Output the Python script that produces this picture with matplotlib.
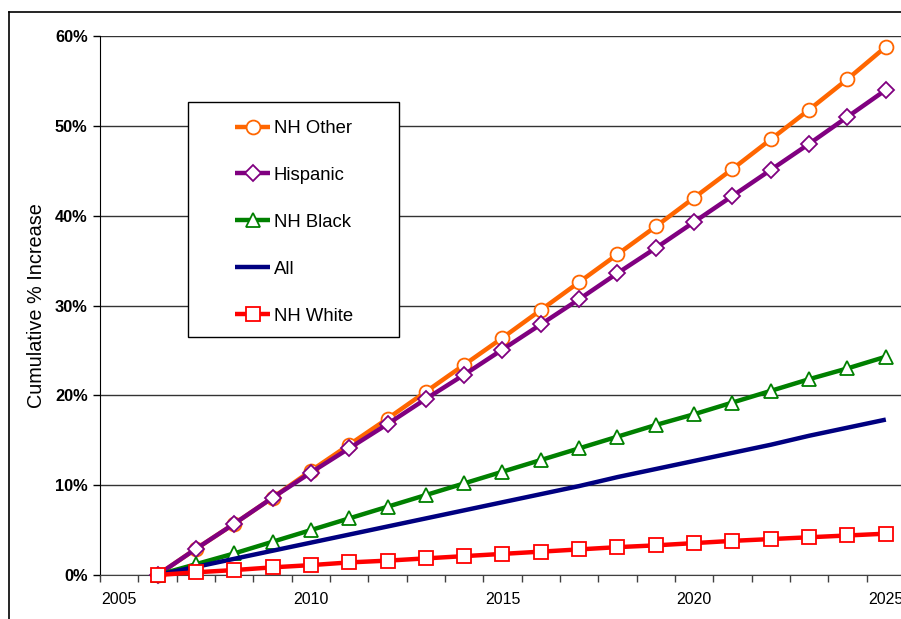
#!/usr/bin/env python3
import matplotlib
matplotlib.use("Agg")
import matplotlib.pyplot as plt
from matplotlib.lines import Line2D
from matplotlib.patches import Rectangle
from matplotlib.ticker import FixedLocator, FuncFormatter

# category axis: 2005..2025, data from 2006
years = list(range(2005, 2026))
data_years = list(range(2006, 2026))

nh_other = [0.0, 2.9, 5.7, 8.6, 11.6, 14.5, 17.4, 20.4, 23.4, 26.4, 29.5,
            32.6, 35.7, 38.8, 42.0, 45.2, 48.5, 51.8, 55.2, 58.8]
hispanic = [0.0, 2.9, 5.7, 8.6, 11.4, 14.1, 16.8, 19.6, 22.3, 25.1, 27.9,
            30.7, 33.6, 36.4, 39.3, 42.2, 45.1, 48.0, 51.0, 54.0]
nh_black = [0.0, 1.2, 2.4, 3.7, 5.0, 6.3, 7.6, 8.9, 10.2, 11.5, 12.8,
            14.1, 15.4, 16.7, 17.9, 19.2, 20.5, 21.8, 23.0, 24.3]
all_pop = [0.0, 0.9, 1.8, 2.7, 3.6, 4.5, 5.4, 6.3, 7.2, 8.1, 9.0,
           9.9, 10.9, 11.8, 12.7, 13.6, 14.5, 15.5, 16.4, 17.3]
nh_white = [0.0, 0.3, 0.55, 0.85, 1.1, 1.4, 1.6, 1.85, 2.1, 2.35, 2.6,
            2.85, 3.1, 3.3, 3.55, 3.8, 4.0, 4.2, 4.4, 4.6]

series = [
    ("NH Other", nh_other, "#FF6600", "o", 10),
    ("Hispanic", hispanic, "#800080", "D", 8),
    ("NH Black", nh_black, "#008000", "^", 10),
    ("All", all_pop, "#000080", None, 0),
    ("NH White", nh_white, "#FF0000", "s", 9.5),
]

plt.rcParams["font.family"] = ["Liberation Sans", "DejaVu Sans"]

W, H = 901, 619
fig = plt.figure(figsize=(W / 100, H / 100), dpi=100)
ax = fig.add_axes([100 / W, (H - 575) / H, 805 / W, 539 / H])


def px(x, y):
    # picture pixels (from top-left) -> axes fraction
    return (x - 100) / 805, 1 - (y - 36) / 539


xpos = [years.index(y) for y in data_years]
for name, vals, color, marker, ms in series:
    ax.plot(xpos, vals, color=color, lw=3.2, marker=marker, markersize=ms,
            markerfacecolor="white", markeredgecolor=color, markeredgewidth=1.3,
            label=name, solid_capstyle="butt", clip_on=False, zorder=3)

ax.set_xlim(-0.5, len(years) - 0.5)
ax.set_ylim(0, 60)

# category boundaries get the tick marks, labels sit at category centres
ax.xaxis.set_major_locator(FixedLocator([i - 0.5 for i in range(len(years) + 1)]))
ax.xaxis.set_major_formatter(FuncFormatter(lambda v, p: ""))
label_idx = [i for i, y in enumerate(years) if y % 5 == 0]
ax.xaxis.set_minor_locator(FixedLocator(label_idx))
ax.xaxis.set_minor_formatter(FuncFormatter(lambda v, p: str(years[int(round(v))])))
ax.tick_params(axis="x", which="major", direction="out", length=5, width=1, color="#404040")
ax.tick_params(axis="x", which="minor", length=0, pad=12, labelsize=11.5)

ax.set_yticks(range(0, 61, 10))
ax.yaxis.set_major_formatter(FuncFormatter(lambda v, p: f"{int(v)}%"))
ax.tick_params(axis="y", direction="out", length=5, width=1, pad=4, labelsize=11.8)
for lbl in ax.get_yticklabels():
    lbl.set_fontweight("bold")

ax.grid(axis="y", color="#333333", lw=1)
ax.set_axisbelow(True)
for side in ("top", "right"):
    ax.spines[side].set_visible(False)
ax.spines["left"].set_color("black")
ax.spines["bottom"].set_color("#404040")

ax.set_ylabel("Cumulative % Increase", fontsize=14.3, labelpad=6)

# legend box drawn by hand so its padding can match
x0, y0 = px(188, 337)
x1, y1 = px(399, 102)
ax.add_patch(Rectangle((x0, y0), x1 - x0, y1 - y0, transform=ax.transAxes,
                       facecolor="white", edgecolor="black", lw=1, zorder=4,
                       clip_on=False))
leg = ax.legend(loc="upper left", bbox_to_anchor=px(235, 120),
                fontsize=13.3, frameon=False,
                handlelength=1.9, handletextpad=0.2, labelspacing=1.62,
                borderpad=0, borderaxespad=0)
leg.set_zorder(5)

# outer chart frame (runs off the right and bottom of the picture)
fig.add_artist(Line2D([9 / W, 9 / W], [0, 1 - 12 / H], color="black", lw=1.2))
fig.add_artist(Line2D([9 / W, 1], [1 - 12 / H, 1 - 12 / H], color="black", lw=1.2))

fig.savefig("out.png", dpi=100)
